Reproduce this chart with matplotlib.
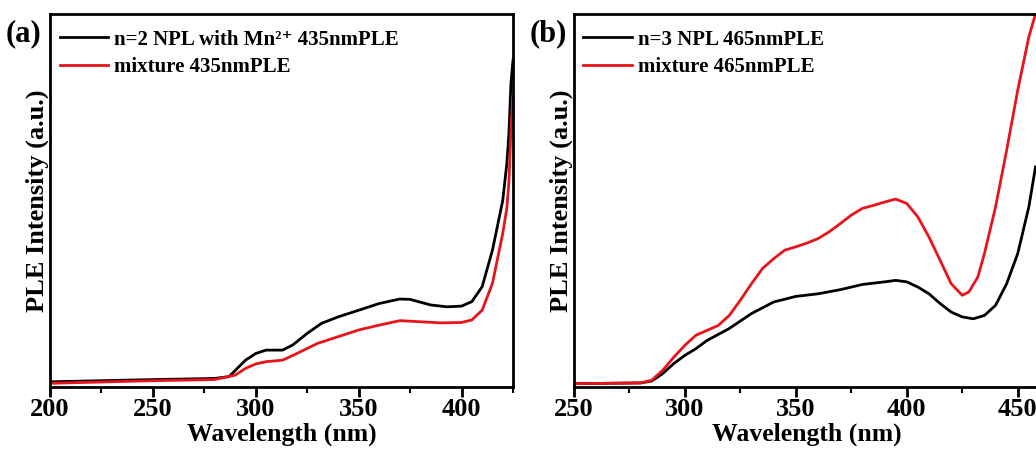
import numpy as np
import matplotlib.pyplot as plt
from matplotlib.ticker import MultipleLocator

plt.rcParams['font.family'] = ['Liberation Serif', 'DejaVu Serif']
plt.rcParams['font.weight'] = 'bold'

# panel (a): n=2 NPL with Mn2+ and mixture, 435 nm PLE
wl_a_black = [200, 250, 280, 287, 291, 295, 300, 305, 313, 318, 325, 332, 340, 350, 360, 370, 375,
              385, 393, 400, 405, 410, 415, 420, 422, 423, 424, 425]
ple_a_black = [0.014, 0.02, 0.023, 0.028, 0.05, 0.072, 0.09, 0.099, 0.099, 0.113, 0.144, 0.171, 0.188,
               0.206, 0.224, 0.236, 0.235, 0.22, 0.215, 0.217, 0.229, 0.269, 0.367, 0.50, 0.60, 0.68,
               0.815, 0.877]
wl_a_red = [200, 250, 280, 290, 295, 300, 305, 313, 320, 330, 340, 350, 360, 370, 380, 390, 400,
            405, 410, 415, 420, 422, 423, 424, 425]
ple_a_red = [0.01, 0.017, 0.02, 0.032, 0.05, 0.062, 0.068, 0.072, 0.09, 0.117, 0.135, 0.153, 0.166,
             0.178, 0.175, 0.172, 0.173, 0.18, 0.206, 0.278, 0.412, 0.48, 0.55, 0.69, 0.778]

# panel (b): n=3 NPL and mixture, 465 nm PLE
wl_b_black = [250, 280, 285, 290, 295, 300, 305, 310, 320, 330, 340, 350, 360, 370, 380, 390, 395,
              400, 405, 410, 415, 420, 425, 430, 435, 440, 445, 450, 455, 458]
ple_b_black = [0.009, 0.011, 0.016, 0.036, 0.063, 0.085, 0.103, 0.125, 0.157, 0.197, 0.228, 0.243,
               0.25, 0.261, 0.275, 0.282, 0.286, 0.282, 0.268, 0.25, 0.224, 0.201, 0.188, 0.183,
               0.192, 0.219, 0.277, 0.358, 0.483, 0.59]
wl_b_red = [250, 280, 285, 290, 295, 300, 305, 310, 315, 320, 325, 330, 335, 340, 345, 350, 355, 360,
            365, 370, 375, 380, 385, 390, 395, 400, 405, 410, 415, 420, 425, 428, 432, 435, 440, 445,
            450, 455, 458]
ple_b_red = [0.009, 0.011, 0.018, 0.045, 0.08, 0.112, 0.139, 0.152, 0.165, 0.192, 0.233, 0.277, 0.318,
             0.344, 0.367, 0.376, 0.386, 0.398, 0.416, 0.438, 0.461, 0.479, 0.487, 0.496, 0.504,
             0.492, 0.456, 0.402, 0.34, 0.277, 0.246, 0.255, 0.295, 0.358, 0.483, 0.635, 0.796,
             0.939, 1.0]

fig = plt.figure(figsize=(10.36, 4.49), dpi=100)
ax_a = fig.add_axes([0.0483, 0.138, 0.4469, 0.8307])
ax_b = fig.add_axes([0.554, 0.138, 0.4498, 0.8307])

panels = [
    (ax_a, wl_a_black, ple_a_black, wl_a_red, ple_a_red, (200, 425),
     'n=2 NPL with Mn\u00b2\u207a 435nmPLE', 'mixture 435nmPLE', '(a)'),
    (ax_b, wl_b_black, ple_b_black, wl_b_red, ple_b_red, (250, 460),
     'n=3 NPL 465nmPLE', 'mixture 465nmPLE', '(b)'),
]

for ax, xb, yb, xr, yr, xlim, lab_b, lab_r, tag in panels:
    ax.plot(xb, yb, color='black', lw=2, label=lab_b)
    ax.plot(xr, yr, color='#e8141b', lw=2, label=lab_r)
    ax.set_xlim(*xlim)
    ax.set_ylim(0, 1)
    ax.set_yticks([])
    ax.xaxis.set_major_locator(MultipleLocator(50))
    ax.xaxis.set_minor_locator(MultipleLocator(25))
    ax.tick_params(axis='x', which='major', direction='out', length=7, width=2, labelsize=19, pad=1)
    ax.tick_params(axis='x', which='minor', direction='out', length=4, width=1.5)
    for s in ax.spines.values():
        s.set_linewidth(2)
    ax.set_xlabel('Wavelength (nm)', fontsize=18.5, fontweight='bold', labelpad=1)
    ax.set_ylabel('PLE Intensity (a.u.)', fontsize=19, fontweight='bold', labelpad=1)
    ax.legend(loc='upper left', frameon=False, fontsize=15, handlelength=2.35,
              handletextpad=0.25, borderaxespad=0.3, labelspacing=0.35,
              bbox_to_anchor=(-0.011, 0.997))
    ax.text(-0.095, 0.985, tag, transform=ax.transAxes, fontsize=22, fontweight='bold',
            ha='left', va='top')

fig.savefig('out.png', dpi=100)
